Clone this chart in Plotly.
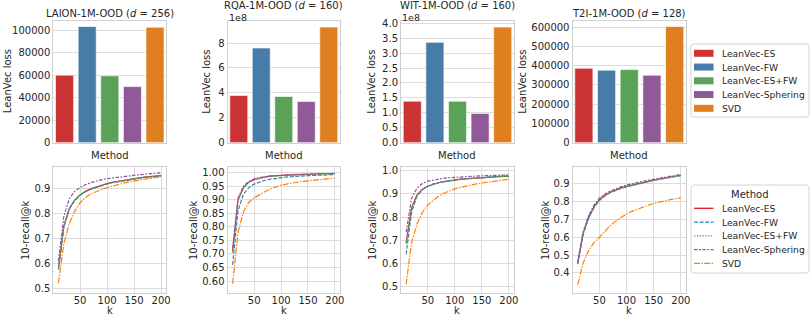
import plotly.graph_objects as go

# ---------------- data ----------------
methods = ["LeanVec-ES", "LeanVec-FW", "LeanVec-ES+FW", "LeanVec-Sphering", "SVD"]
datasets = ["LAION-1M-OOD", "RQA-1M-OOD", "WIT-1M-OOD", "T2I-1M-OOD"]
dims = [256, 160, 160, 128]

loss_laion = [60200, 103600, 59600, 50000, 103000]
loss_rqa = [3.79e8, 7.60e8, 3.71e8, 3.31e8, 9.28e8]
loss_wit = [1.39e8, 3.36e8, 1.39e8, 0.98e8, 3.87e8]
loss_t2i = [387000, 377000, 380000, 351000, 604000]

k_values = [10, 20, 30, 40, 50, 60, 70, 80, 90, 100, 110, 120, 130, 140, 150, 160, 170, 180, 190, 200]

recall_laion = {
    "LeanVec-ES":       [0.580, 0.750, 0.820, 0.855, 0.875, 0.890, 0.900, 0.908, 0.915, 0.921, 0.926, 0.930, 0.934, 0.938, 0.941, 0.944, 0.947, 0.949, 0.951, 0.953],
    "LeanVec-FW":       [0.575, 0.745, 0.818, 0.853, 0.874, 0.889, 0.899, 0.907, 0.914, 0.920, 0.925, 0.929, 0.933, 0.937, 0.940, 0.943, 0.946, 0.948, 0.950, 0.952],
    "LeanVec-ES+FW":    [0.580, 0.752, 0.822, 0.856, 0.876, 0.891, 0.901, 0.909, 0.916, 0.922, 0.927, 0.931, 0.935, 0.939, 0.942, 0.945, 0.948, 0.950, 0.952, 0.954],
    "LeanVec-Sphering": [0.610, 0.790, 0.860, 0.890, 0.905, 0.917, 0.925, 0.932, 0.937, 0.941, 0.944, 0.947, 0.950, 0.952, 0.955, 0.957, 0.959, 0.961, 0.963, 0.965],
    "SVD":              [0.520, 0.680, 0.760, 0.810, 0.845, 0.865, 0.880, 0.890, 0.898, 0.905, 0.912, 0.918, 0.923, 0.928, 0.932, 0.936, 0.940, 0.943, 0.946, 0.948],
}
recall_rqa = {
    "LeanVec-ES":       [0.710, 0.900, 0.945, 0.965, 0.975, 0.980, 0.984, 0.987, 0.989, 0.990, 0.991, 0.992, 0.993, 0.994, 0.994, 0.995, 0.995, 0.996, 0.996, 0.997],
    "LeanVec-FW":       [0.660, 0.860, 0.920, 0.945, 0.958, 0.966, 0.972, 0.976, 0.979, 0.982, 0.984, 0.985, 0.987, 0.988, 0.989, 0.990, 0.991, 0.992, 0.992, 0.993],
    "LeanVec-ES+FW":    [0.705, 0.897, 0.943, 0.964, 0.974, 0.979, 0.983, 0.986, 0.988, 0.989, 0.990, 0.991, 0.992, 0.993, 0.994, 0.994, 0.995, 0.995, 0.996, 0.996],
    "LeanVec-Sphering": [0.720, 0.905, 0.950, 0.968, 0.977, 0.982, 0.986, 0.988, 0.990, 0.991, 0.992, 0.993, 0.994, 0.995, 0.995, 0.996, 0.996, 0.997, 0.997, 0.998],
    "SVD":              [0.590, 0.780, 0.855, 0.890, 0.907, 0.920, 0.930, 0.940, 0.948, 0.954, 0.958, 0.962, 0.965, 0.968, 0.970, 0.972, 0.975, 0.977, 0.978, 0.980],
}
recall_wit = {
    "LeanVec-ES":       [0.690, 0.840, 0.895, 0.920, 0.933, 0.942, 0.948, 0.953, 0.957, 0.960, 0.963, 0.965, 0.967, 0.969, 0.970, 0.972, 0.973, 0.974, 0.975, 0.976],
    "LeanVec-FW":       [0.640, 0.820, 0.890, 0.918, 0.933, 0.943, 0.949, 0.954, 0.958, 0.961, 0.964, 0.966, 0.968, 0.970, 0.972, 0.973, 0.975, 0.976, 0.977, 0.978],
    "LeanVec-ES+FW":    [0.685, 0.838, 0.894, 0.920, 0.933, 0.942, 0.948, 0.953, 0.957, 0.960, 0.963, 0.965, 0.967, 0.969, 0.970, 0.972, 0.973, 0.974, 0.975, 0.976],
    "LeanVec-Sphering": [0.735, 0.880, 0.925, 0.945, 0.955, 0.960, 0.965, 0.968, 0.970, 0.972, 0.973, 0.975, 0.976, 0.977, 0.978, 0.979, 0.980, 0.980, 0.981, 0.982],
    "SVD":              [0.510, 0.690, 0.770, 0.820, 0.853, 0.873, 0.890, 0.903, 0.914, 0.922, 0.928, 0.934, 0.939, 0.943, 0.947, 0.951, 0.954, 0.957, 0.960, 0.963],
}
recall_t2i = {
    "LeanVec-ES":       [0.455, 0.620, 0.710, 0.770, 0.810, 0.835, 0.852, 0.865, 0.876, 0.885, 0.893, 0.900, 0.907, 0.913, 0.920, 0.926, 0.932, 0.937, 0.942, 0.947],
    "LeanVec-FW":       [0.450, 0.615, 0.705, 0.766, 0.806, 0.831, 0.849, 0.862, 0.873, 0.882, 0.890, 0.898, 0.905, 0.911, 0.918, 0.924, 0.930, 0.935, 0.940, 0.945],
    "LeanVec-ES+FW":    [0.452, 0.617, 0.707, 0.768, 0.808, 0.833, 0.850, 0.863, 0.874, 0.883, 0.891, 0.899, 0.906, 0.912, 0.919, 0.925, 0.931, 0.936, 0.941, 0.946],
    "LeanVec-Sphering": [0.460, 0.630, 0.720, 0.780, 0.818, 0.842, 0.859, 0.872, 0.883, 0.892, 0.900, 0.907, 0.913, 0.919, 0.925, 0.931, 0.937, 0.942, 0.947, 0.952],
    "SVD":              [0.335, 0.455, 0.525, 0.570, 0.600, 0.635, 0.665, 0.690, 0.712, 0.730, 0.745, 0.758, 0.770, 0.780, 0.789, 0.797, 0.804, 0.810, 0.815, 0.820],
}

# tick labels
loss_ticks_laion = [0, 20000, 40000, 60000, 80000, 100000]
loss_ticks_rqa = [0, 2e8, 4e8, 6e8, 8e8]
loss_ticks_rqa_text = ["0", "2", "4", "6", "8"]
loss_ticks_wit = [0, 0.5e8, 1.0e8, 1.5e8, 2.0e8, 2.5e8, 3.0e8, 3.5e8, 4.0e8]
loss_ticks_wit_text = ["0.0", "0.5", "1.0", "1.5", "2.0", "2.5", "3.0", "3.5", "4.0"]
loss_ticks_t2i = [0, 100000, 200000, 300000, 400000, 500000, 600000]
recall_ticks_laion = [0.5, 0.6, 0.7, 0.8, 0.9]
recall_ticks_rqa = [0.60, 0.65, 0.70, 0.75, 0.80, 0.85, 0.90, 0.95, 1.00]
recall_ticks_wit = [0.5, 0.6, 0.7, 0.8, 0.9, 1.0]
recall_ticks_t2i = [0.4, 0.5, 0.6, 0.7, 0.8, 0.9]
k_ticks = [50, 100, 150, 200]

# ---------------- styles ----------------
bar_colors = ["#cb3335", "#477ca8", "#59a257", "#905998", "#df7f20"]
line_colors = ["#e41a1c", "#377eb8", "#4daf4a", "#984ea3", "#ff7f00"]
line_dashes = ["solid", "4px,1.6px", "1.4px,1.4px", "3.5px,1.5px,1.8px,1.5px", "6px,1.4px,1.4px,1.4px"]

W, H = 810, 317
TEXT = "#262626"
GRID = "#dcdcdc"
SPINE = "#cfcfcf"
FONT = "DejaVu Sans, Liberation Sans, sans-serif"
FS = 10
LEG_FS = 9.2

col_px = [(53.3, 166.3), (227.5, 340.0), (401.0, 514.0), (572.5, 686.0)]
top_px = (20.7, 142.7)
bot_px = (167.0, 293.0)


def px(x):
    return x / W


def py(y):
    return 1 - y / H


def xd(a, b):
    return [px(a), px(b)]


def yd(top, bottom):
    return [py(bottom), py(top)]


losses = [loss_laion, loss_rqa, loss_wit, loss_t2i]
recalls = [recall_laion, recall_rqa, recall_wit, recall_t2i]
loss_ranges = [[0, max(loss_laion) * 1.05], [0, max(loss_rqa) * 1.055],
               [0, max(loss_wit) * 1.055], [0, max(loss_t2i) * 1.05]]
loss_tickvals = [loss_ticks_laion, loss_ticks_rqa, loss_ticks_wit, loss_ticks_t2i]
loss_ticktext = [[str(v) for v in loss_ticks_laion], loss_ticks_rqa_text, loss_ticks_wit_text,
                 [str(v) for v in loss_ticks_t2i]]
recall_ranges = [[0.481, 0.988], [0.556, 1.021], [0.473, 1.016], [0.288, 0.993]]
recall_tickvals = [recall_ticks_laion, recall_ticks_rqa, recall_ticks_wit, recall_ticks_t2i]
recall_ticktext = [[f"{v:.1f}" for v in recall_ticks_laion], [f"{v:.2f}" for v in recall_ticks_rqa],
                   [f"{v:.1f}" for v in recall_ticks_wit], [f"{v:.1f}" for v in recall_ticks_t2i]]

fig = go.Figure()
layout = {}
annotations = []
shapes = []


def txt(text, x, y, size=FS, xanchor="center", angle=0):
    annotations.append(dict(
        text=text, x=px(x), y=py(y), xref="paper", yref="paper", showarrow=False,
        xanchor=xanchor, yanchor="middle", textangle=angle, borderpad=0,
        font=dict(size=size, color=TEXT, family=FONT)))


for c in range(4):
    xa_top = f"x{c + 1}" if c else "x"
    ya_top = f"y{c + 1}" if c else "y"
    xa_bot = f"x{c + 5}"
    ya_bot = f"y{c + 5}"

    for m, method in enumerate(methods):
        fig.add_trace(go.Bar(
            x=[method], y=[losses[c][m]], width=0.8,
            marker=dict(color=bar_colors[m], line=dict(color="rgba(255,255,255,0.8)", width=0.8)),
            name=method, showlegend=False, xaxis=xa_top, yaxis=ya_top,
        ))
    for m, method in enumerate(methods):
        fig.add_trace(go.Scatter(
            x=k_values, y=recalls[c][method], mode="lines",
            line=dict(color=line_colors[m], width=1.2, dash=line_dashes[m]),
            name=method, showlegend=False, xaxis=xa_bot, yaxis=ya_bot,
        ))

    common = dict(showline=True, mirror=True, linecolor=SPINE, linewidth=1,
                  gridcolor=GRID, gridwidth=1, zeroline=False, ticks="",
                  tickfont=dict(size=FS, color=TEXT, family=FONT))

    layout["xaxis" + (str(c + 1) if c else "")] = dict(
        domain=xd(*col_px[c]), anchor=ya_top, type="category",
        categoryorder="array", categoryarray=methods, range=[-0.5, 4.5],
        showticklabels=False, showgrid=False, **common)
    layout["yaxis" + (str(c + 1) if c else "")] = dict(
        domain=yd(*top_px), anchor=xa_top, range=loss_ranges[c],
        tickvals=loss_tickvals[c], ticktext=loss_ticktext[c], showgrid=True, **common)
    layout[f"xaxis{c + 5}"] = dict(
        domain=xd(*col_px[c]), anchor=ya_bot, range=[0.5, 209.5],
        tickvals=k_ticks, ticktext=[str(v) for v in k_ticks], showgrid=True,
        ticklabelstandoff=-2, **common)
    layout[f"yaxis{c + 5}"] = dict(
        domain=yd(*bot_px), anchor=xa_bot, range=recall_ranges[c],
        tickvals=recall_tickvals[c], ticktext=recall_ticktext[c], showgrid=True, **common)

    cx = (col_px[c][0] + col_px[c][1]) / 2
    title_y = 6.0 if c in (1, 2) else 13.5
    txt(f"{datasets[c]} (<i>d</i> = {dims[c]})", cx, title_y)
    txt("Method", cx, 155)
    txt("k", cx, 310.5)

ylab_top_x = [7.5, 207, 372, 523]
ylab_bot_x = [25, 193, 372, 545]
for c in range(4):
    txt("LeanVec loss", ylab_top_x[c], (top_px[0] + top_px[1]) / 2, angle=-90)
    txt("10-recall@k", ylab_bot_x[c], (bot_px[0] + bot_px[1]) / 2, angle=-90)

for c in (1, 2):
    txt("1e8", col_px[c][0], 17.5, size=9.5, xanchor="left")


# ---------------- manual legends (matplotlib-style) ----------------
def rounded_box(x0, y0, x1, y1, r=3):
    X = lambda v: px(v)
    Y = lambda v: py(v)
    path = (f"M {X(x0 + r)},{Y(y0)} L {X(x1 - r)},{Y(y0)} Q {X(x1)},{Y(y0)} {X(x1)},{Y(y0 + r)} "
            f"L {X(x1)},{Y(y1 - r)} Q {X(x1)},{Y(y1)} {X(x1 - r)},{Y(y1)} "
            f"L {X(x0 + r)},{Y(y1)} Q {X(x0)},{Y(y1)} {X(x0)},{Y(y1 - r)} "
            f"L {X(x0)},{Y(y0 + r)} Q {X(x0)},{Y(y0)} {X(x0 + r)},{Y(y0)} Z")
    shapes.append(dict(type="path", path=path, xref="paper", yref="paper",
                       fillcolor="rgba(255,255,255,0.9)", line=dict(color="#d4d4d4", width=1)))


LEG_X0, LEG_X1 = 691, 809
SYM_X0, SYM_X1 = 694, 713.5
TEXT_X = 720.5
ROW = 13.75

# bar legend
rounded_box(LEG_X0, 44, LEG_X1, 117)
for m, method in enumerate(methods):
    yc = 53.3 + m * ROW
    shapes.append(dict(type="rect", xref="paper", yref="paper",
                       x0=px(SYM_X0), x1=px(SYM_X1), y0=py(yc + 3.5), y1=py(yc - 3.5),
                       fillcolor=bar_colors[m], line=dict(width=0)))
    txt(method, TEXT_X, yc, size=LEG_FS, xanchor="left")

# line legend
rounded_box(LEG_X0, 185, LEG_X1, 273)
txt("Method", (LEG_X0 + LEG_X1) / 2, 194, size=FS)
for m, method in enumerate(methods):
    yc = 208.3 + m * ROW
    shapes.append(dict(type="line", xref="paper", yref="paper",
                       x0=px(SYM_X0), x1=px(SYM_X1), y0=py(yc), y1=py(yc),
                       line=dict(color=line_colors[m], width=1.3, dash=line_dashes[m])))
    txt(method, TEXT_X, yc, size=LEG_FS, xanchor="left")

fig.update_layout(
    width=W, height=H, margin=dict(l=0, r=0, t=0, b=0, autoexpand=False),
    paper_bgcolor="white", plot_bgcolor="white",
    font=dict(family=FONT, size=FS, color=TEXT),
    barmode="overlay", annotations=annotations, shapes=shapes,
    showlegend=False,
    **layout,
)

fig.write_html(
    "out.html",
    config={"displayModeBar": False},
    post_script="document.body.style.margin='0';document.body.style.overflow='hidden';",
)
